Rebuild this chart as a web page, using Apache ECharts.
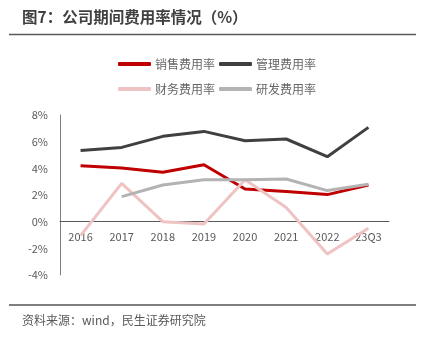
<!DOCTYPE html>
<html><head><meta charset="utf-8">
<script src="https://cdn.jsdelivr.net/npm/echarts@6/dist/echarts.min.js"></script>
<style>html,body{margin:0;padding:0;background:#fff}#c{width:424px;height:342px}</style>
</head><body><div id="c"></div>
<script>
const categories = ['2016','2017','2018','2019','2020','2021','2022','23Q3'];
const salesRate = [4.2, 4.03, 3.7, 4.27, 2.45, 2.27, 2.03, 2.75];
const adminRate = [5.33, 5.57, 6.4, 6.77, 6.07, 6.2, 4.87, 7.07];
const financeRate = [-1.05, 2.87, 0.0, -0.17, 3.15, 1.07, -2.43, -0.5];
const rdRate = [null, 1.88, 2.75, 3.15, 3.15, 3.2, 2.33, 2.8];
const yTicks = [-4, -2, 0, 2, 4, 6, 8];

const font = '"Noto Sans CJK SC", "Noto Sans", sans-serif';
const gridTop = 115, gridBottom = 67, chartH = 342;
const plotH = chartH - gridTop - gridBottom;
const yMin = yTicks[0], yMax = yTicks[yTicks.length-1];
const zeroOffset = -plotH * (0 - yMin) / (yMax - yMin);

const chart = echarts.init(document.getElementById('c'), null, {renderer:'canvas'});
const mk = (name, data, color) => ({
  name, type:'line', data, symbol:'none', smooth:false, connectNulls:false,
  lineStyle:{color, width:3}, itemStyle:{color}
});
chart.setOption({
  animation:false,
  textStyle:{fontFamily:font},
  title:[
    {text:'图7：公司期间费用率情况（%）', left:17, top:4,
     textStyle:{fontSize:15.5, fontWeight:'bold', color:'#404040', fontFamily:font}},
    {text:'资料来源：wind，民生证券研究院', left:17, top:309,
     textStyle:{fontSize:12, fontWeight:'normal', color:'#595959', fontFamily:font}}
  ],
  graphic:[
    {type:'line', shape:{x1:9,y1:34.5,x2:416,y2:34.5}, style:{stroke:'#595959', lineWidth:1.5}},
    {type:'line', shape:{x1:9,y1:305,x2:416,y2:305}, style:{stroke:'#7f7f7f', lineWidth:2}}
  ],
  legend:[
    {data:['销售费用率','管理费用率'], left:113, top:53, itemWidth:33, itemHeight:4, itemGap:4,
     icon:'roundRect', textStyle:{fontSize:12, color:'#666666', padding:[0,0,0,-1]}},
    {data:['财务费用率','研发费用率'], left:113, top:78, itemWidth:33, itemHeight:4, itemGap:4,
     icon:'roundRect', textStyle:{fontSize:12, color:'#666666', padding:[0,0,0,-1]}}
  ],
  grid:{left:60, right:35, top:gridTop, bottom:gridBottom},
  xAxis:{type:'category', data:categories, boundaryGap:true, offset:zeroOffset,
    axisLine:{onZero:false, lineStyle:{color:'#595959', width:1}},
    axisTick:{show:false},
    axisLabel:{color:'#595959', fontSize:11, margin:10, fontFamily:font}},
  yAxis:{type:'value', min:yMin, max:yMax, interval:2,
    axisLine:{show:true, lineStyle:{color:'#7f7f7f', width:1}},
    axisTick:{show:false}, splitLine:{show:false},
    axisLabel:{color:'#595959', fontSize:11, margin:12, formatter:v=>v+'%', fontFamily:font}},
  series:[
    mk('销售费用率', salesRate, '#C00000'),
    mk('管理费用率', adminRate, '#404040'),
    mk('财务费用率', financeRate, '#EFC3C3'),
    mk('研发费用率', rdRate, '#B3B3B3')
  ]
});
</script></body></html>
